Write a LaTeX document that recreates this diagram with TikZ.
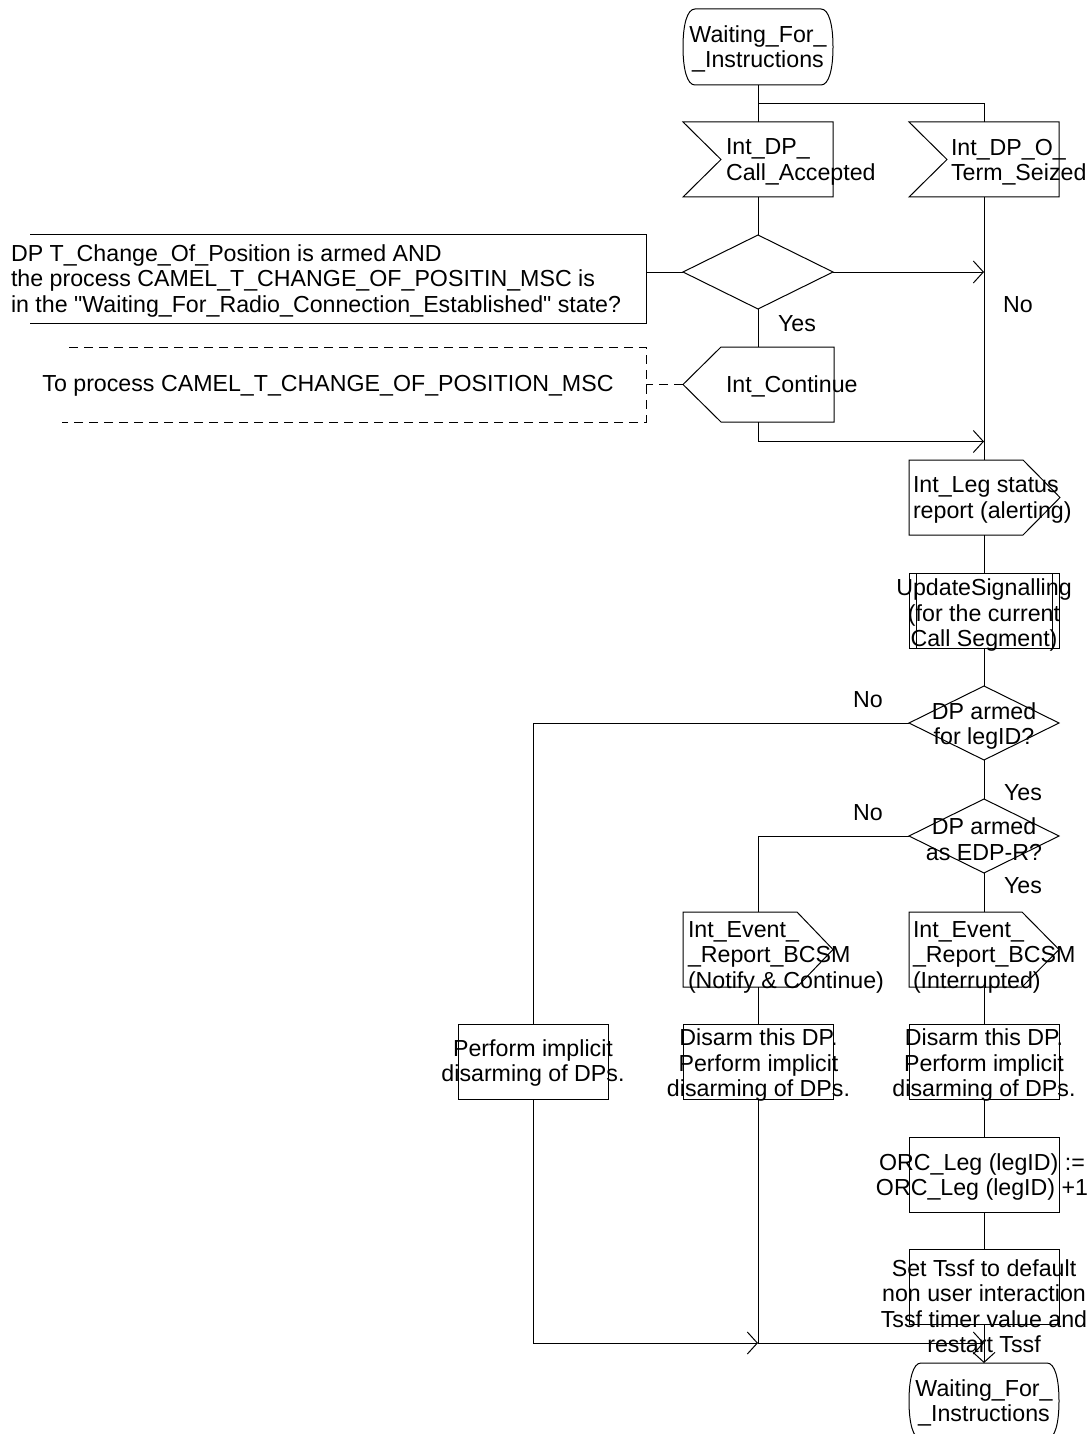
\documentclass[tikz,border=0pt]{standalone}
\usepackage{fontspec}
\setmainfont{Liberation Sans}
\usetikzlibrary{arrows.meta,shapes.geometric,calc}
\font\qf="Liberation Sans" at 23.2pt
\newcommand{\sdlstate}[1]{%
  \draw[wire] ([xshift=12pt]#1.north west) -- ([xshift=-12pt]#1.north east)
    .. controls +(8,0) and +(0,-22) .. (#1.east)
    .. controls +(0,22) and +(8,0) .. ([xshift=-12pt]#1.south east)
    -- ([xshift=12pt]#1.south west)
    .. controls +(-8,0) and +(0,22) .. (#1.west)
    .. controls +(0,-22) and +(-8,0) .. ([xshift=12pt]#1.north west) -- cycle;}
\newcommand{\sdlinput}[1]{%
  \draw[wire] (#1.north west) -- (#1.north east) -- (#1.south east) -- (#1.south west)
    -- ([xshift=38pt]#1.west) -- cycle;}
\newcommand{\sdloutright}[2]{%
  \draw[wire] (#1.north west) -- ([xshift=-#2]#1.north east) -- (#1.east)
    -- ([xshift=-#2]#1.south east) -- (#1.south west) -- cycle;}
\begin{document}
\begin{tikzpicture}[x=1pt,y=-1pt,
  base/.style={font=\fontsize{23.2}{25.5}\selectfont, inner sep=0pt, outer sep=0pt},
  frame/.style={base, draw=none, rectangle},
  boxnode/.style={base, draw, line width=1pt, rectangle, minimum width=150pt, minimum height=75pt},
  decnode/.style={base, draw, line width=1pt, diamond, minimum width=150pt, minimum height=74pt},
  txt/.style={base, align=center},
  ltxt/.style={base, align=left, anchor=west},
  wire/.style={draw, line width=1pt},
  arr/.style={wire, -{Straight Barb[length=10pt, width=22pt]}},
  dashwire/.style={wire, dash pattern=on 9pt off 6pt},
]
\fill[white] (0,0) rectangle (1091,1434);
\useasboundingbox (0,0) rectangle (1091,1434);

% --- nodes ---
\node[frame, minimum width=150pt, minimum height=76pt] (s1) at (758,47) {};
\node[txt] (s1t) at (758,49) {Waiting\_For\_\\\_Instructions};

\node[frame, minimum width=150pt, minimum height=75pt] (in1) at (758,159.5) {};
\node[ltxt] (in1t) at (726,162) {Int\_DP\_\\Call\_Accepted};
\node[frame, minimum width=150pt, minimum height=75pt] (in2) at (984,159.5) {};
\node[ltxt] (in2t) at (951,162) {Int\_DP\_O\_\\Term\_Seized};

\node[decnode] (dec1) at (758,272) {};

\node[frame, minimum width=616pt, minimum height=89pt] (c1) at (338,278.5) {};
\node[ltxt] (c1t) at (11,281) {DP T\_Change\_Of\_Position is armed AND\\the process CAMEL\_T\_CHANGE\_OF\_POSITIN\_MSC is\\in the {\qf"}Waiting\_For\_Radio\_Connection\_Established{\qf"} state?};

\node[frame, minimum width=584pt, minimum height=75pt] (c2) at (354,384.5) {};
\node[txt] (c2t) at (328,386) {To process CAMEL\_T\_CHANGE\_OF\_POSITION\_MSC};

\node[frame, minimum width=151pt, minimum height=75pt] (out1) at (758.5,384.5) {};
\node[ltxt] (out1t) at (726,386) {Int\_Continue};

\node[frame, minimum width=151pt, minimum height=75pt] (leg) at (984.5,497.5) {};
\node[ltxt] (legt) at (913,500) {Int\_Leg status\\report (alerting)};

\node[boxnode] (proc) at (984,610.5) {};
\node[txt] (proct) at (984,615) {UpdateSignalling\\(for the current\\Call Segment)};

\node[decnode] (dec2) at (984,723) {};
\node[txt] (dec2t) at (984,726) {DP armed\\for legID?};
\node[decnode] (dec3) at (984,836) {};
\node[txt] (dec3t) at (984,839) {DP armed\\as EDP-R?};

\node[frame, minimum width=150pt, minimum height=75pt] (ev1) at (758,949.5) {};
\node[ltxt] (ev1t) at (688,957) {Int\_Event\_\\\_Report\_BCSM\\(Notify \& Continue)};
\node[frame, minimum width=150pt, minimum height=75pt] (ev2) at (984,949.5) {};
\node[ltxt] (ev2t) at (913,957) {Int\_Event\_\\\_Report\_BCSM\\(Interrupted)};

\node[boxnode] (t0) at (533,1061.5) {};
\node[txt] (t0t) at (533,1063) {Perform implicit\\disarming of DPs.};
\node[boxnode] (t1) at (758.5,1061.5) {};
\node[txt] (t1t) at (758.5,1065) {Disarm this DP.\\Perform implicit\\disarming of DPs.};
\node[boxnode] (t2) at (984,1061.5) {};
\node[txt] (t2t) at (984,1065) {Disarm this DP.\\Perform implicit\\disarming of DPs.};
\node[boxnode] (t3) at (984,1174.5) {};
\node[txt] (t3t) at (982,1177) {ORC\_Leg (legID) :=\\ORC\_Leg (legID) +1};
\node[boxnode] (t4) at (984,1286.5) {};
\node[txt] (t4t) at (984,1306) {Set Tssf to default\\non user interaction\\Tssf timer value and\\restart Tssf};

\node[frame, minimum width=150pt, minimum height=76pt] (s2) at (984,1401) {};
\node[txt] (s2t) at (984,1403) {Waiting\_For\_\\\_Instructions};

% labels
\node[base] (lyes1) at (797,324) {Yes};
\node[base] (lno1) at (1018,305) {No};
\node[base] (lno2) at (868,699.5) {No};
\node[base] (lyes2) at (1023,793) {Yes};
\node[base] (lno3) at (868,813) {No};
\node[base] (lyes3) at (1023,886) {Yes};

% --- outlines ---
\sdlstate{s1}
\sdlstate{s2}
\sdlinput{in1}
\sdlinput{in2}
\draw[wire] (out1.west) -- ([xshift=38pt]out1.north west) -- (out1.north east)
  -- (out1.south east) -- ([xshift=38pt]out1.south west) -- cycle;
\sdloutright{leg}{37pt}
\sdloutright{ev1}{36pt}
\sdloutright{ev2}{37pt}
\draw[wire] ([xshift=7pt]proc.north west) -- ([xshift=7pt]proc.south west);
\draw[wire] ([xshift=-7pt]proc.north east) -- ([xshift=-7pt]proc.south east);
\draw[wire] (c1.north west) -- (c1.north east) -- (c1.south east) -- (c1.south west);
\draw[dashwire] ([xshift=7pt]c2.north west) -- (c2.north east) -- (c2.south east) -- (c2.south west);

% --- connectors ---
\coordinate (br) at ($(s1.south)!0.5!(in1.north)$);
\draw[wire] (s1.south) -- (in1.north);
\draw[wire] (br) -| (in2.north);
\draw[wire] (in1.south) -- (dec1.north);
\draw[wire] (dec1.west) -- (dec1.west -| c1.east);
\draw[arr] (dec1.east) -- (dec1.east -| in2.south);
\draw[wire] (in2.south) -- (in2.south |- leg.north);
\draw[wire] (dec1.south) -- (dec1.south |- out1.north);
\draw[dashwire] (out1.west) -- (out1.west -| c2.east);
\coordinate (j1) at (984,441.5);
\draw[arr] (out1.south) |- (j1);
\draw[wire] (leg.south -| proc.north) -- (proc.north);
\draw[wire] (proc.south) -- (dec2.north);
\draw[wire] (dec2.west) -| (t0.north);
\draw[wire] (dec2.south) -- (dec3.north);
\draw[wire] (dec3.west) -| (ev1.north);
\draw[wire] (dec3.south) -- (ev2.north);
\draw[wire] (ev1.south) -- (ev1.south |- t1.north);
\draw[wire] (ev2.south) -- (t2.north);
\draw[wire] (t2.south) -- (t3.north);
\draw[wire] (t3.south) -- (t4.north);
\coordinate (j2) at (758,1343);
\coordinate (j3) at (984,1343);
\draw[arr] (t0.south) |- (j2);
\draw[wire] (t1.south -| j2) -- (j2);
\draw[arr] (j2) -- (j3);
\draw[arr] (t4.south) -- (s2.north);
\end{tikzpicture}
\end{document}
